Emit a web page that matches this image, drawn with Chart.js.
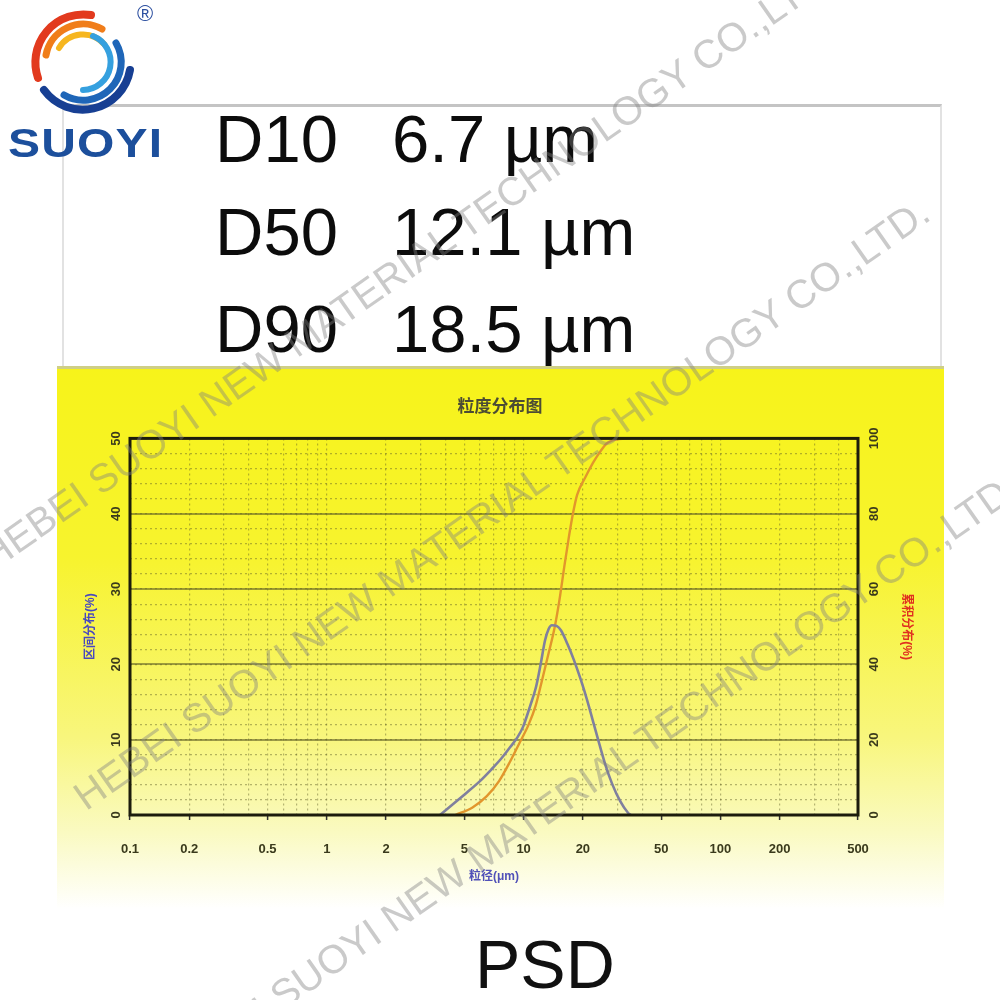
<!DOCTYPE html>
<html>
<head>
<meta charset="utf-8">
<script src="https://cdn.jsdelivr.net/npm/chart.js@4.4.1/dist/chart.umd.min.js"></script>
<style>
  html, body { margin: 0; padding: 0; background: #fff; }
  body { width: 1000px; height: 1000px; position: relative; overflow: hidden; font-family: 'Liberation Sans', Arial, sans-serif; }
  .abs { position: absolute; }
  #box { left: 62px; top: 104px; width: 876px; height: 262px; border-top: 3px solid #c4c4c4; border-left: 2px solid #e2e2e2; border-right: 2px solid #e2e2e2; z-index: 1; }
  #yellow { left: 57px; top: 366px; width: 887px; height: 540px; border-top: 3px solid #cfcf86; z-index: 1;
    background: linear-gradient(to bottom, #f7f31a 0%, #f7f32e 35%, #f8f67c 68%, #fafac2 86%, #ffffff 100%); }
  #wrap { left: 0; top: 0; width: 1000px; height: 1000px; z-index: 2; }
  .d { font-size: 67px; line-height: 67px; color: #0c0c0c; z-index: 2; white-space: nowrap; }
  #psd { left: 475px; top: 930px; font-size: 68px; line-height: 68px; color: #111; z-index: 2; }
  #brand { left: 8px; top: 123px; font-size: 40px; line-height: 40px; font-weight: bold; color: #1c4f9c; z-index: 3;
    transform: scaleX(1.2); transform-origin: 0 0; letter-spacing: 1px; }
  #reg { left: 137px; top: 3px; font-size: 22px; line-height: 22px; color: #2c4fa0; z-index: 3; }
  .wm { font-size: 40px; line-height: 40px; height: 40px; color: rgba(128,128,128,0.42); white-space: nowrap;
    transform-origin: 0 50%; transform: rotate(-35deg); z-index: 4; }
</style>
</head>
<body>
<div id="box" class="abs"></div>
<div id="yellow" class="abs"></div>

<svg class="abs" style="left:0;top:0;z-index:3" width="200" height="125" viewBox="0 0 200 125">
  <g fill="none" stroke-linecap="round">
    <path d="M38 78 A48 48 0 0 1 91 15" stroke="#e23a1e" stroke-width="8"/>
    <path d="M46 55 A38 38 0 0 1 102 29" stroke="#f07d1a" stroke-width="7"/>
    <path d="M59 48 A28 28 0 0 1 104 44" stroke="#f6b61f" stroke-width="6"/>
    <path d="M130 70 A48 48 0 0 1 44 90" stroke="#173f93" stroke-width="8"/>
    <path d="M116 43 A38 38 0 0 1 64 95" stroke="#1f66b8" stroke-width="7"/>
    <path d="M93 36 A28 28 0 0 1 83 90" stroke="#35a0df" stroke-width="6"/>
  </g>
</svg>
<div id="reg" class="abs">®</div>
<div id="brand" class="abs">SUOYI</div>

<div class="abs d" style="left:215px;top:105px">D10</div>
<div class="abs d" style="left:392px;top:105px">6.7 µm</div>
<div class="abs d" style="left:215px;top:198px">D50</div>
<div class="abs d" style="left:392px;top:198px">12.1 µm</div>
<div class="abs d" style="left:215px;top:295px">D90</div>
<div class="abs d" style="left:392px;top:295px">18.5 µm</div>

<div id="wrap" class="abs"><canvas id="psdChart" width="1000" height="1000"></canvas></div>

<div id="psd" class="abs">PSD</div>

<div class="abs wm" style="left:-15px;top:540px">HEBEI SUOYI NEW MATERIAL TECHNOLOGY CO.,LTD.</div>
<div class="abs wm" style="left:78px;top:780px">HEBEI SUOYI NEW MATERIAL TECHNOLOGY CO.,LTD.</div>
<div class="abs wm" style="left:167px;top:1055px">HEBEI SUOYI NEW MATERIAL TECHNOLOGY CO.,LTD.</div>

<script>
// tick labels
const xTickLabels = [0.1, 0.2, 0.5, 1, 2, 5, 10, 20, 50, 100, 200, 500];
const leftTicks = [0, 10, 20, 30, 40, 50];
const rightTicks = [0, 20, 40, 60, 80, 100];

// 区间分布 (differential, %)
const sizeDiff = [3.76, 4.4, 5.1, 6.0, 6.83, 7.7, 8.53, 9.3, 9.93, 10.8, 11.56, 12.2, 12.85, 13.4, 13.9, 14.7, 15.5, 16.7, 18.0, 19.5, 21.0, 22.6, 24.2, 26.0, 28.1, 31.0, 33.9, 35.0];
const diffValues = [0, 1.5, 2.9, 4.5, 6.0, 7.5, 9.0, 10.3, 11.7, 14.5, 17.0, 20.0, 23.2, 24.7, 25.2, 25.1, 24.5, 22.7, 20.6, 18.0, 15.3, 12.3, 9.5, 6.7, 4.2, 1.8, 0.3, 0];

// 累积分布 (cumulative, %)
const sizeCum = [4.5, 5.5, 6.5, 7.5, 8.5, 9.5, 10.6, 11.5, 12.3, 13.4, 14.4, 15.3, 16.1, 17.0, 17.8, 18.7, 20.5, 22.5, 24.5, 26.2, 28.0, 30.5, 35.0];
const cumValues = [0, 2, 5, 9, 14, 19, 24, 29, 35, 43, 50, 58, 66, 74, 80, 85, 89.5, 93.5, 96.5, 98.5, 99.4, 99.8, 100];

// grid positions of the log axis (1..9 per decade)
const xGrid = [];
for (let e = -1; e <= 2; e++) {
    for (let k = 1; k <= 9; k++) {
        const v = Number((k * Math.pow(10, e)).toPrecision(3));
        if (v <= 500) xGrid.push(v);
    }
}

Chart.defaults.font.family = "'Liberation Sans', 'Noto Sans CJK SC', sans-serif";

const tickColor = '#3a3a1c';
const dotted = 'rgba(95,95,40,0.45)';

const framePlugin = {
    id: 'frame',
    afterDatasetsDraw(chart) {
        const { ctx, chartArea: a } = chart;
        ctx.save();
        ctx.strokeStyle = '#1c1c0c';
        ctx.lineWidth = 3;
        ctx.strokeRect(a.left, a.top, a.right - a.left, a.bottom - a.top);
        ctx.restore();
    }
};

new Chart(document.getElementById('psdChart'), {
    type: 'line',
    data: {
        datasets: [{
            label: '区间分布',
            data: sizeDiff.map((s, i) => ({ x: s, y: diffValues[i] })),
            yAxisID: 'y',
            borderColor: '#80809e',
            borderWidth: 2.6,
            pointRadius: 0,
            cubicInterpolationMode: 'monotone',
            fill: false
        }, {
            label: '累积分布',
            data: sizeCum.map((s, i) => ({ x: s, y: cumValues[i] })),
            yAxisID: 'y1',
            borderColor: '#e2962c',
            borderWidth: 2.4,
            pointRadius: 0,
            cubicInterpolationMode: 'monotone',
            fill: false
        }]
    },
    options: {
        responsive: false,
        animation: false,
        layout: { padding: { top: 397, left: 70, right: 70, bottom: 100 } },
        plugins: {
            legend: { display: false },
            tooltip: { enabled: false },
            title: {
                display: true,
                text: '粒度分布图',
                color: '#4c4c34',
                font: { size: 17, weight: 'bold' },
                padding: { top: 0, bottom: 21 }
            }
        },
        scales: {
            x: {
                type: 'logarithmic',
                min: 0.1,
                max: 500,
                position: 'bottom',
                afterBuildTicks: s => { s.ticks = xGrid.map(v => ({ value: v })); },
                afterFit: s => { s.height = 85; },
                grid: {
                    color: dotted,
                    lineWidth: 1.2,
                    tickLength: 5,
                    tickWidth: 1.5,
                    tickColor: c => (c.tick && xTickLabels.includes(c.tick.value)) ? '#333' : 'rgba(0,0,0,0)'
                },
                border: { display: false, dash: [2, 3] },
                ticks: {
                    autoSkip: false,
                    maxRotation: 0,
                    padding: 22,
                    color: tickColor,
                    font: { size: 13, weight: 'bold' },
                    callback: v => xTickLabels.includes(v) ? String(v) : ''
                },
                title: {
                    display: true,
                    text: '粒径(μm)',
                    color: '#5050b8',
                    font: { size: 12, weight: 'bold' },
                    padding: { top: 0, bottom: 16 }
                }
            },
            y: {
                position: 'left',
                min: 0,
                max: 50,
                afterBuildTicks: s => { s.ticks = leftTicks.map(v => ({ value: v })); },
                afterFit: s => { s.width = 60; },
                grid: { color: 'rgba(95,95,35,0.6)', lineWidth: 2, drawTicks: false },
                border: { display: false },
                ticks: {
                    minRotation: 90,
                    maxRotation: 90,
                    crossAlign: 'center',
                    padding: 6,
                    color: tickColor,
                    font: { size: 13, weight: 'bold' }
                },
                title: {
                    display: true,
                    text: '区间分布(%)',
                    color: '#4848c0',
                    font: { size: 12, weight: 'bold' },
                    padding: { top: 13 }
                }
            },
            y1: {
                position: 'right',
                min: 0,
                max: 100,
                afterBuildTicks: s => {
                    const t = [];
                    for (let v = 0; v <= 100; v += 4) t.push({ value: v });
                    s.ticks = t;
                },
                afterFit: s => { s.width = 72; },
                grid: { color: dotted, lineWidth: 1.2, drawTicks: false },
                border: { display: false, dash: [2, 3] },
                ticks: {
                    autoSkip: false,
                    minRotation: 90,
                    maxRotation: 90,
                    crossAlign: 'center',
                    padding: 6,
                    color: tickColor,
                    font: { size: 13, weight: 'bold' },
                    callback: v => rightTicks.includes(v) ? String(v) : ''
                },
                title: {
                    display: true,
                    text: '累积分布(%)',
                    color: '#e03020',
                    font: { size: 12, weight: 'bold' },
                    padding: { top: 16 }
                }
            }
        }
    },
    plugins: [framePlugin]
});
</script>
</body>
</html>
